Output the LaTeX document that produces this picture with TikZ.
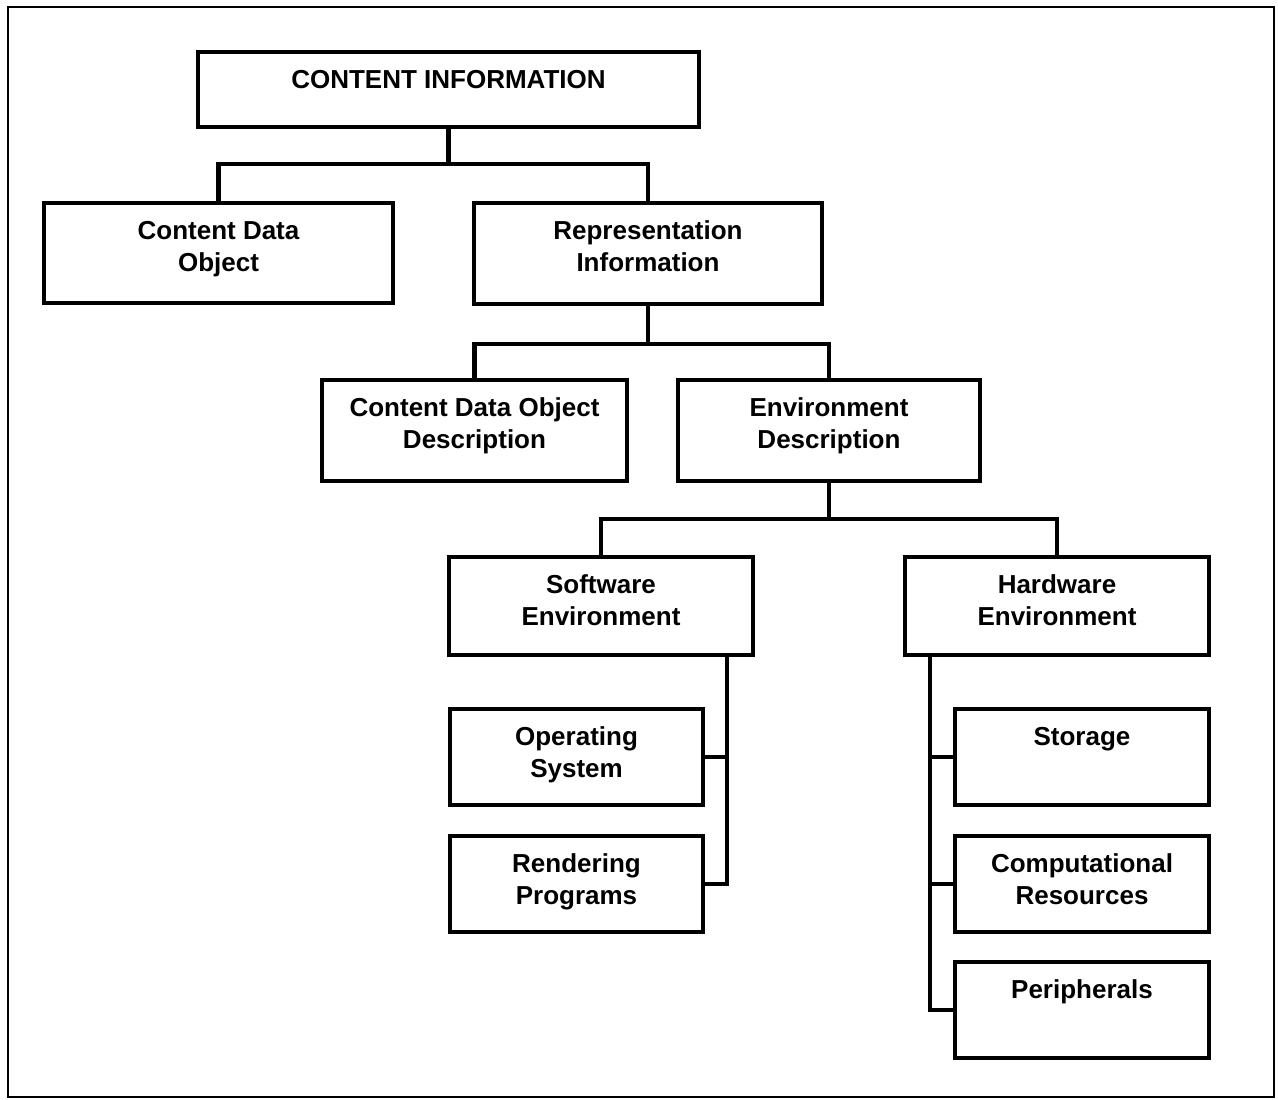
\documentclass[tikz,border=0pt]{standalone}
\usepackage{fontspec}
\setmainfont{Liberation Sans}
\begin{document}
\begin{tikzpicture}[x=1pt,y=-1pt,
  box/.style={draw=black, line width=4.8pt, inner sep=0pt, outer sep=0pt, fill=white},
  lbl/.style={anchor=north, yshift=-14.1pt, inner sep=0pt, outer sep=0pt, align=center,
    font=\fontsize{26}{32}\selectfont\bfseries},
  conn/.style={draw=black, line width=4.8pt},
  frame/.style={draw=black, line width=2.5pt, inner sep=0pt, outer sep=0pt}]
\useasboundingbox (0,0) rectangle (1278,1100);
\node[frame, minimum width=1266pt, minimum height=1090pt] (frm) at (641,552) {};

\coordinate (j1) at (450,164);
\coordinate (j2) at (651,344);
\coordinate (j3) at (829,519);
\coordinate (sej) at (727,0);
\coordinate (hej) at (930,0);

\node[box, minimum width=501pt, minimum height=75pt] (ci) at (448.5,89.5) {};
\node[box, minimum width=349pt, minimum height=100pt] (cdo) at (218.5,253) {};
\node[box, minimum width=348pt, minimum height=101pt] (ri) at (648,253.5) {};
\node[box, minimum width=305pt, minimum height=101pt] (cdod) at (474.5,430.5) {};
\node[box, minimum width=302pt, minimum height=101pt] (ed) at (829,430.5) {};
\node[box, minimum width=304pt, minimum height=98pt] (se) at (601,606) {};
\node[box, minimum width=304pt, minimum height=98pt] (he) at (1057,606) {};
\node[box, minimum width=253pt, minimum height=96pt] (os) at (576.5,757) {};
\node[box, minimum width=253pt, minimum height=96pt] (rp) at (576.5,884) {};
\node[box, minimum width=254pt, minimum height=96pt] (st) at (1082,757) {};
\node[box, minimum width=254pt, minimum height=96pt] (cr) at (1082,884) {};
\node[box, minimum width=254pt, minimum height=96pt] (pe) at (1082,1010) {};

\path[conn] (ci.south) -- (ci.south |- j1);
\path[conn] (cdo.north) |- (j1) -| (ri.north);
\path[conn] (ri.south) -- (ri.south |- j2);
\path[conn] (cdod.north) |- (j2) -| (ed.north);
\path[conn] (ed.south) -- (j3);
\path[conn] (se.north) |- (j3) -| (he.north);
\path[conn] (se.south -| sej) |- (rp.east);
\path[conn] (os.east) -- (os.east -| sej);
\path[conn] (he.south -| hej) |- (pe.west);
\path[conn] (st.west) -- (st.west -| hej);
\path[conn] (cr.west) -- (cr.west -| hej);

\node[lbl] (tci) at (ci.north) {\strut CONTENT INFORMATION};
\node[lbl] (tcdo) at (cdo.north) {\strut Content Data\\Object};
\node[lbl] (tri) at (ri.north) {\strut Representation\\Information};
\node[lbl] (tcdod) at (cdod.north) {\strut Content Data Object\\Description};
\node[lbl] (ted) at (ed.north) {\strut Environment\\Description};
\node[lbl] (tse) at (se.north) {\strut Software\\Environment};
\node[lbl] (the) at (he.north) {\strut Hardware\\Environment};
\node[lbl] (tos) at (os.north) {\strut Operating\\System};
\node[lbl] (trp) at (rp.north) {\strut Rendering\\Programs};
\node[lbl] (tst) at (st.north) {\strut Storage};
\node[lbl] (tcr) at (cr.north) {\strut Computational\\Resources};
\node[lbl] (tpe) at (pe.north) {\strut Peripherals};
\end{tikzpicture}
\end{document}
